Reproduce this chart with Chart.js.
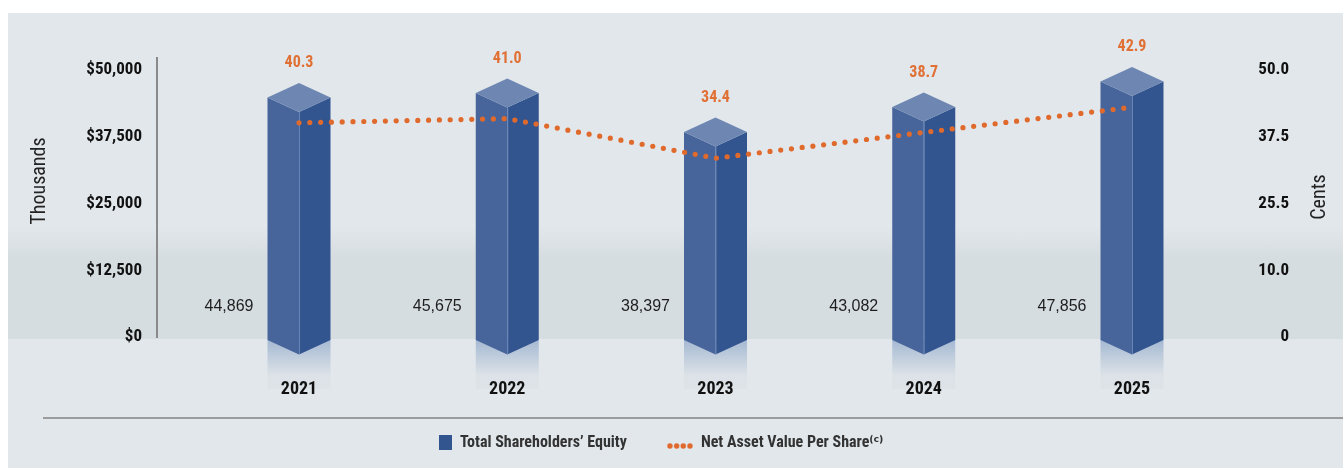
<!DOCTYPE html>
<html><head><meta charset="utf-8">
<script src="https://cdn.jsdelivr.net/npm/chart.js@4.4.1/dist/chart.umd.min.js"></script>
<style>
html,body{margin:0;padding:0;background:#fff;}
#wrap{position:relative;width:1343px;height:468px;overflow:hidden;}
#bg{position:absolute;left:8px;top:13px;width:1335px;height:455px;
  background:linear-gradient(to bottom,#e2e7eb 0px,#e2e7eb 214px,#d6dde0 244px,#d6dde0 326px,#e2e7eb 326px,#e2e7eb 100%);}
#rule{position:absolute;left:43px;top:417px;width:1300px;height:2px;background:#9c9c9c;}
canvas{position:absolute;left:0;top:0;}
</style></head>
<body><div id="wrap"><div id="bg"></div><div id="rule"></div><canvas id="c" width="1343" height="468"></canvas></div>
<script>
// ---- data ----
const years = ['2021', '2022', '2023', '2024', '2025'];
const equity = [44869, 45675, 38397, 43082, 47856];
const nav = [40.3, 41.0, 34.4, 38.7, 42.9];
const leftTickValues = [0, 12500, 25000, 37500, 50000];
const leftTickLabels = ['$0', '$12,500', '$25,000', '$37,500', '$50,000'];
const rightTickLabels = ['0', '10.0', '25.5', '37.5', '50.0'];
const seriesNames = ['Total Shareholders’ Equity', 'Net Asset Value Per Share⁽ᶜ⁾'];
const leftTitle = 'Thousands';
const rightTitle = 'Cents';

// ---- styling ----
const NARROW = "'Roboto Condensed', 'Open Sans Condensed', 'DejaVu Sans Condensed', sans-serif";
const PLAIN = "'Liberation Sans', Arial, sans-serif";
const ORANGE = '#e0692c';
const ORANGE_TXT = '#e07034';
const LEFT_FACE = '#47659b', RIGHT_FACE = '#32548f', TOP_FACE = '#6d87b2';
const R_MIN = 4.6, R_TOP = 49.1, R_MAX = 51.1, L_MAX = 52250;
const rightTickValues = leftTickValues.map(v => R_MIN + (v / 50000) * (R_TOP - R_MIN));

function squareImg() {
  const c = document.createElement('canvas'); c.width = 26; c.height = 16;
  const g = c.getContext('2d'); g.fillStyle = RIGHT_FACE; g.fillRect(13, 0, 13, 15); return c;
}
function dotsImg() {
  const c = document.createElement('canvas'); c.width = 26; c.height = 14;
  const g = c.getContext('2d'); g.fillStyle = ORANGE;
  [3, 9.7, 16.3, 23].forEach(x => { g.beginPath(); g.arc(x, 10, 2.7, 0, Math.PI * 2); g.fill(); });
  return c;
}
const legendStyles = [squareImg(), dotsImg()];

const prismPlugin = {
  id: 'prism',
  beforeDatasetsDraw(chart) {
    const ctx = chart.ctx;
    const meta = chart.getDatasetMeta(0);
    meta.data.forEach(el => {
      const hw = el.width / 2, x = el.x, b = el.base + 3;
      const g = ctx.createLinearGradient(0, b, 0, b + 50);
      g.addColorStop(0, '#a5b9d3'); g.addColorStop(0.7, '#dce2e7'); g.addColorStop(1, '#dde3e7');
      ctx.fillStyle = g; ctx.fillRect(x - hw, b, hw * 2, 49);
    });
  },
  beforeDatasetDraw(chart, args) {
    if (args.index !== 0) return;
    const ctx = chart.ctx;
    const meta = chart.getDatasetMeta(0);
    const d = 14.5;
    meta.data.forEach(el => {
      const hw = el.width / 2, x = el.x, y = el.y, b = el.base + 3;
      ctx.save();
      ctx.fillStyle = LEFT_FACE;
      ctx.beginPath(); ctx.moveTo(x - hw, y); ctx.lineTo(x, y + d); ctx.lineTo(x, b + d); ctx.lineTo(x - hw, b); ctx.closePath(); ctx.fill();
      ctx.fillStyle = RIGHT_FACE;
      ctx.beginPath(); ctx.moveTo(x, y + d); ctx.lineTo(x + hw, y); ctx.lineTo(x + hw, b); ctx.lineTo(x, b + d); ctx.closePath(); ctx.fill();
      ctx.fillStyle = TOP_FACE;
      ctx.beginPath(); ctx.moveTo(x - hw, y); ctx.lineTo(x, y - d); ctx.lineTo(x + hw, y); ctx.lineTo(x, y + d); ctx.closePath(); ctx.fill();
      ctx.strokeStyle = 'rgba(140,165,205,0.6)'; ctx.lineWidth = 1;
      ctx.beginPath(); ctx.moveTo(x + 0.5, y + d); ctx.lineTo(x + 0.5, b + d); ctx.stroke();
      ctx.restore();
    });
    return false;
  },
  afterDatasetsDraw(chart) {
    const ctx = chart.ctx;
    const bars = chart.getDatasetMeta(0).data;
    ctx.save();
    ctx.textBaseline = 'middle';
    bars.forEach((el, i) => {
      ctx.font = '16px ' + PLAIN; ctx.fillStyle = '#1e1e1e'; ctx.textAlign = 'right';
      ctx.fillText(equity[i].toLocaleString('en-US'), el.x - el.width / 2 - 14, el.base - 30);
      ctx.font = 'bold 16px ' + NARROW; ctx.fillStyle = ORANGE_TXT; ctx.textAlign = 'center';
      ctx.fillText(nav[i].toFixed(1), el.x, el.y - 34);
    });
    ctx.restore();
  },
  afterDraw(chart) {
    const ctx = chart.ctx;
    ctx.save();
    ctx.font = '20px ' + NARROW; ctx.fillStyle = '#222'; ctx.textAlign = 'center'; ctx.textBaseline = 'middle';
    ctx.translate(40, 181); ctx.rotate(-Math.PI / 2); ctx.fillText(leftTitle, 0, 0);
    ctx.restore();
    ctx.save();
    ctx.font = '20px ' + NARROW; ctx.fillStyle = '#222'; ctx.textAlign = 'center'; ctx.textBaseline = 'middle';
    ctx.translate(1320, 197); ctx.rotate(-Math.PI / 2); ctx.fillText(rightTitle, 0, 0);
    ctx.restore();
  }
};

new Chart(document.getElementById('c'), {
  type: 'bar',
  data: {
    datasets: [
      {
        type: 'bar', label: seriesNames[0],
        data: equity.map((v, i) => ({ x: i, y: v })),
        yAxisID: 'y', barThickness: 63, backgroundColor: RIGHT_FACE, order: 2
      },
      {
        type: 'line', label: seriesNames[1],
        data: nav.map((v, i) => ({ x: i, y: v })),
        yAxisID: 'y1', borderColor: ORANGE, borderWidth: 5.2, borderDash: [0, 10.8],
        borderCapStyle: 'round', pointRadius: 0, tension: 0, fill: false, clip: false, order: 1
      }
    ]
  },
  options: {
    responsive: false, animation: false, events: [],
    layout: { padding: { top: 58, right: 54, bottom: 7, left: 20 } },
    plugins: {
      tooltip: { enabled: false },
      legend: {
        position: 'bottom',
        labels: {
          usePointStyle: true, pointStyleWidth: 26, padding: 40,
          color: '#333', font: { family: NARROW, size: 16, weight: 'bold' },
          generateLabels: () => seriesNames.map((t, i) => ({
            text: t, pointStyle: legendStyles[i], fillStyle: 'transparent',
            strokeStyle: 'transparent', lineWidth: 0, hidden: false, datasetIndex: i, fontColor: '#333'
          }))
        }
      }
    },
    scales: {
      x: {
        type: 'linear', min: -0.6819, max: 4.5186, offset: false,
        grid: { display: false }, border: { display: false },
        afterBuildTicks: s => { s.ticks = years.map((_, i) => ({ value: i })); },
        afterFit: s => { s.height = 58; },
        ticks: {
          z: 1, padding: 34, color: '#111', autoSkip: false, maxRotation: 0,
          font: { family: NARROW, size: 18, weight: 'bold' },
          callback: (v, i) => years[i]
        }
      },
      y: {
        position: 'left', min: 0, max: L_MAX,
        grid: { display: false, drawTicks: false },
        border: { display: true, color: '#8a8a8a', width: 2 },
        afterBuildTicks: s => { s.ticks = leftTickValues.map(v => ({ value: v })); },
        afterFit: s => { s.width = 137; },
        ticks: {
          padding: 15, color: '#111',
          font: { family: NARROW, size: 17, weight: 'bold' },
          callback: (v, i) => leftTickLabels[i]
        }
      },
      y1: {
        position: 'right', min: R_MIN, max: R_MAX,
        grid: { display: false, drawTicks: false }, border: { display: false },
        afterBuildTicks: s => { s.ticks = rightTickValues.map(v => ({ value: v })); },
        afterFit: s => { s.width = 49; },
        ticks: {
          padding: 0, crossAlign: 'far', color: '#111',
          font: { family: NARROW, size: 17, weight: 'bold' },
          callback: (v, i) => rightTickLabels[i]
        }
      }
    }
  },
  plugins: [prismPlugin]
});
</script>
</body></html>
